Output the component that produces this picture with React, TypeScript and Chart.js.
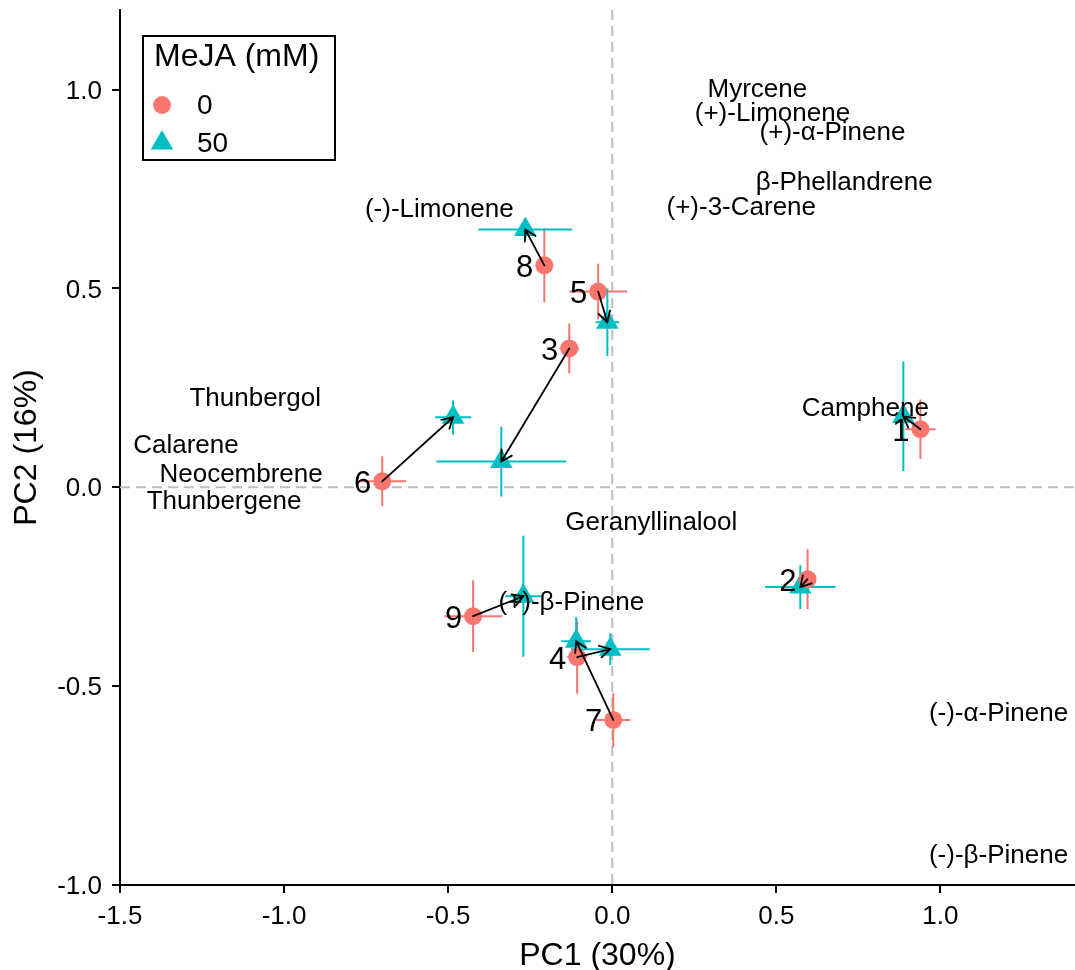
import React, { useEffect, useRef } from 'react';
import { Chart, registerables } from 'chart.js';

Chart.register(...registerables);

const FONT = '"Liberation Sans", Arial, Helvetica, sans-serif';
const RED = '#F8766D';
const CYAN = '#00BFC4';

// Sample scores (mean ± error) for MeJA 0 mM (circles) and 50 mM (triangles)
const sampleIds = ['1', '2', '3', '4', '5', '6', '7', '8', '9'];
const pc1Ctrl = [0.939, 0.595, -0.131, -0.107, -0.043, -0.701, 0.003, -0.207, -0.424];
const pc2Ctrl = [0.146, -0.231, 0.349, -0.427, 0.492, 0.015, -0.585, 0.558, -0.324];
const pc1ErrCtrl = [0.046, 0.024, 0.03, 0.03, 0.088, 0.073, 0.052, 0.024, 0.088];
const pc2ErrCtrl = [0.075, 0.075, 0.063, 0.092, 0.07, 0.063, 0.068, 0.093, 0.09];
const pc1MeJA = [0.887, 0.573, -0.338, -0.006, -0.015, -0.485, -0.11, -0.265, -0.271];
const pc2MeJA = [0.178, -0.251, 0.065, -0.407, 0.415, 0.176, -0.387, 0.648, -0.274];
const pc1ErrMeJA = [0.024, 0.107, 0.198, 0.12, 0.036, 0.055, 0.045, 0.143, 0.055];
const pc2ErrMeJA = [0.138, 0.055, 0.088, 0.04, 0.085, 0.043, 0.06, 0.02, 0.152];

// Variable (terpene) label positions
const loadingNames = [
  'Myrcene', '(+)-Limonene', '(+)-α-Pinene', 'β-Phellandrene', '(+)-3-Carene',
  '(-)-Limonene', 'Thunbergol', 'Calarene', 'Neocembrene', 'Thunbergene',
  'Camphene', 'Geranyllinalool', '(+)-β-Pinene', '(-)-α-Pinene', '(-)-β-Pinene',
];
const loadingPC1 = [0.442, 0.488, 0.671, 0.707, 0.393, -0.527, -1.088, -1.299, -1.131, -1.183, 0.771, 0.119, -0.125, 1.177, 1.177];
const loadingPC2 = [1.008, 0.947, 0.899, 0.774, 0.711, 0.704, 0.231, 0.113, 0.038, -0.028, 0.204, -0.083, -0.284, -0.563, -0.92];

const xTicks = [-1.5, -1.0, -0.5, 0.0, 0.5, 1.0];
const yTicks = [-1.0, -0.5, 0.0, 0.5, 1.0];
const xTitle = 'PC1 (30%)';
const yTitle = 'PC2 (16%)';
const legendTitle = 'MeJA (mM)';
const groupLabels = ['0', '50'];

const overlayPlugin = {
  id: 'pcaOverlay',
  beforeDatasetsDraw(chart: any) {
    const { ctx, chartArea, scales } = chart;
    const xs = scales.x;
    const ys = scales.y;
    ctx.save();
    // zero reference lines
    ctx.strokeStyle = '#BEBEBE';
    ctx.lineWidth = 2;
    ctx.setLineDash([10, 6]);
    const x0 = xs.getPixelForValue(0);
    const y0 = ys.getPixelForValue(0);
    ctx.beginPath();
    ctx.moveTo(x0, chartArea.top);
    ctx.lineTo(x0, chartArea.bottom);
    ctx.stroke();
    ctx.beginPath();
    ctx.moveTo(chartArea.left, y0);
    ctx.lineTo(chartArea.right, y0);
    ctx.stroke();
    ctx.setLineDash([]);
    // error bars
    const drawErr = (px: number[], py: number[], ex: number[], ey: number[], color: string) => {
      ctx.strokeStyle = color;
      ctx.lineWidth = 2;
      for (let i = 0; i < px.length; i++) {
        const cx = xs.getPixelForValue(px[i]);
        const cy = ys.getPixelForValue(py[i]);
        ctx.beginPath();
        ctx.moveTo(xs.getPixelForValue(px[i] - ex[i]), cy);
        ctx.lineTo(xs.getPixelForValue(px[i] + ex[i]), cy);
        ctx.moveTo(cx, ys.getPixelForValue(py[i] - ey[i]));
        ctx.lineTo(cx, ys.getPixelForValue(py[i] + ey[i]));
        ctx.stroke();
      }
    };
    drawErr(pc1Ctrl, pc2Ctrl, pc1ErrCtrl, pc2ErrCtrl, RED);
    drawErr(pc1MeJA, pc2MeJA, pc1ErrMeJA, pc2ErrMeJA, CYAN);
    ctx.restore();
  },
  afterDatasetsDraw(chart: any) {
    const { ctx, chartArea, scales } = chart;
    const xs = scales.x;
    const ys = scales.y;
    ctx.save();
    // arrows from 0 mM to 50 mM
    ctx.strokeStyle = '#000';
    ctx.lineWidth = 1.8;
    ctx.lineCap = 'round';
    for (let i = 0; i < sampleIds.length; i++) {
      const x1 = xs.getPixelForValue(pc1Ctrl[i]);
      const y1 = ys.getPixelForValue(pc2Ctrl[i]);
      const x2 = xs.getPixelForValue(pc1MeJA[i]);
      const y2 = ys.getPixelForValue(pc2MeJA[i]);
      const a = Math.atan2(y2 - y1, x2 - x1);
      const hl = 12;
      ctx.beginPath();
      ctx.moveTo(x1, y1);
      ctx.lineTo(x2, y2);
      ctx.moveTo(x2 - hl * Math.cos(a - Math.PI / 6), y2 - hl * Math.sin(a - Math.PI / 6));
      ctx.lineTo(x2, y2);
      ctx.lineTo(x2 - hl * Math.cos(a + Math.PI / 6), y2 - hl * Math.sin(a + Math.PI / 6));
      ctx.stroke();
    }
    // sample numbers
    ctx.fillStyle = '#000';
    ctx.font = `31px ${FONT}`;
    ctx.textAlign = 'right';
    ctx.textBaseline = 'middle';
    for (let i = 0; i < sampleIds.length; i++) {
      const x = xs.getPixelForValue(pc1Ctrl[i]);
      const y = ys.getPixelForValue(pc2Ctrl[i]);
      ctx.fillText(sampleIds[i], x - 11, y + 3);
    }
    // variable labels
    ctx.font = `26px ${FONT}`;
    ctx.textAlign = 'center';
    for (let i = 0; i < loadingNames.length; i++) {
      ctx.fillText(loadingNames[i], xs.getPixelForValue(loadingPC1[i]), ys.getPixelForValue(loadingPC2[i]) + 3);
    }
    // legend
    ctx.lineWidth = 2;
    ctx.strokeStyle = '#000';
    ctx.strokeRect(143, 36, 192, 124);
    ctx.textAlign = 'left';
    ctx.font = `32px ${FONT}`;
    ctx.fillText(legendTitle, 154, 57);
    ctx.fillStyle = RED;
    ctx.beginPath();
    ctx.arc(162, 105, 9, 0, Math.PI * 2);
    ctx.fill();
    ctx.fillStyle = CYAN;
    ctx.beginPath();
    const tr = 13;
    const tcx = 162;
    const tcy = 143;
    for (let k = 0; k < 3; k++) {
      const ang = (k * 2 * Math.PI) / 3;
      const px = tcx + Math.sin(ang) * tr;
      const py = tcy - Math.cos(ang) * tr;
      if (k === 0) ctx.moveTo(px, py);
      else ctx.lineTo(px, py);
    }
    ctx.closePath();
    ctx.fill();
    ctx.fillStyle = '#000';
    ctx.font = `28px ${FONT}`;
    ctx.fillText(groupLabels[0], 197, 106);
    ctx.fillText(groupLabels[1], 197, 144);
    // axis titles
    ctx.font = `32px ${FONT}`;
    ctx.textAlign = 'center';
    ctx.textBaseline = 'alphabetic';
    ctx.fillText(xTitle, (chartArea.left + chartArea.right) / 2, 965);
    ctx.save();
    ctx.translate(36, (chartArea.top + chartArea.bottom) / 2);
    ctx.rotate(-Math.PI / 2);
    ctx.fillText(yTitle, 0, 0);
    ctx.restore();
    ctx.restore();
  },
};

const zeroPad = (s: any) => {
  s.paddingTop = 0;
  s.paddingBottom = 0;
  s.paddingLeft = 0;
  s.paddingRight = 0;
};

export default function App() {
  const ref = useRef<HTMLCanvasElement>(null);
  useEffect(() => {
    document.body.style.margin = '0';
    const canvas = ref.current;
    if (!canvas) return;
    const chart = new Chart(canvas, {
      type: 'scatter',
      data: {
        datasets: [
          {
            label: groupLabels[0],
            data: pc1Ctrl.map((v, i) => ({ x: v, y: pc2Ctrl[i] })),
            pointStyle: 'circle',
            pointRadius: 9,
            backgroundColor: RED,
            borderWidth: 0,
            pointBorderWidth: 0,
          },
          {
            label: groupLabels[1],
            data: pc1MeJA.map((v, i) => ({ x: v, y: pc2MeJA[i] })),
            pointStyle: 'triangle',
            pointRadius: 13,
            backgroundColor: CYAN,
            borderWidth: 0,
            pointBorderWidth: 0,
          },
        ],
      },
      options: {
        animation: false,
        responsive: false,
        devicePixelRatio: 1,
        events: [],
        layout: { autoPadding: false, padding: { top: 10, right: 0, left: 0, bottom: 0 } },
        plugins: { legend: { display: false }, tooltip: { enabled: false } },
        scales: {
          x: {
            type: 'linear',
            min: -1.5,
            max: 1.41,
            afterBuildTicks: (s: any) => {
              s.ticks = xTicks.map((v) => ({ value: v }));
            },
            afterFit: (s: any) => {
              s.height = 85;
              zeroPad(s);
            },
            grid: { drawOnChartArea: false, drawTicks: true, tickLength: 8, color: '#000', lineWidth: 2 },
            border: { display: true, color: '#000', width: 2 },
            ticks: {
              color: '#000',
              font: { family: FONT, size: 26 },
              padding: 8,
              maxRotation: 0,
              autoSkip: false,
              callback: (v: any) => Number(v).toFixed(1),
            },
          },
          y: {
            type: 'linear',
            min: -1.0,
            max: 1.2,
            afterBuildTicks: (s: any) => {
              s.ticks = yTicks.map((v) => ({ value: v }));
            },
            afterFit: (s: any) => {
              s.width = 120;
              zeroPad(s);
            },
            grid: { drawOnChartArea: false, drawTicks: true, tickLength: 8, color: '#000', lineWidth: 2 },
            border: { display: true, color: '#000', width: 2 },
            ticks: {
              color: '#000',
              font: { family: FONT, size: 26 },
              padding: 10,
              labelOffset: 2,
              autoSkip: false,
              callback: (v: any) => Number(v).toFixed(1),
            },
          },
        },
      },
      plugins: [overlayPlugin],
    } as any);
    return () => chart.destroy();
  }, []);
  return (
    <div style={{ position: 'absolute', left: 0, top: 0, width: 1075, height: 970, background: '#fff' }}>
      <canvas ref={ref} width={1075} height={970} style={{ display: 'block', width: 1075, height: 970 }} />
    </div>
  );
}
